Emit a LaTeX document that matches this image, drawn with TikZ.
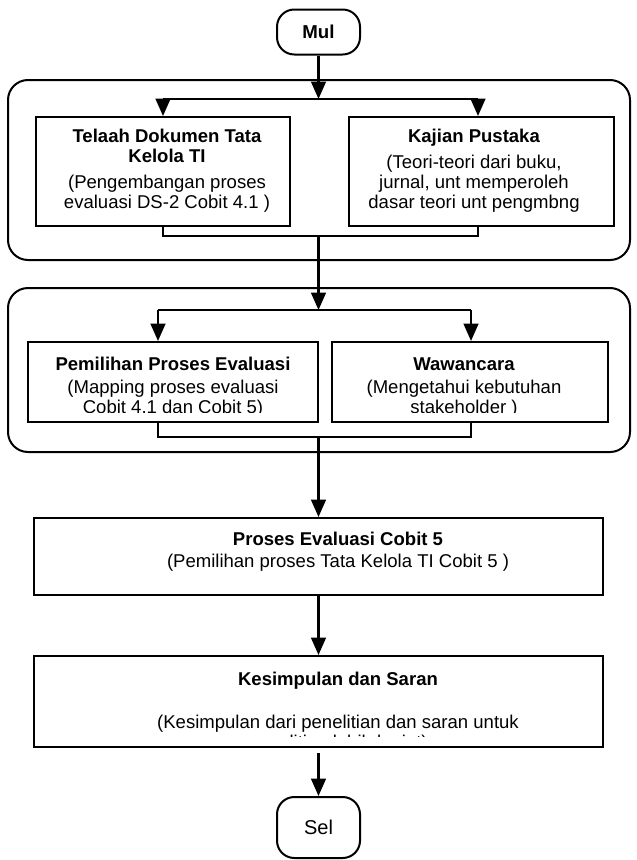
\documentclass[tikz,border=0pt]{standalone}
\usepackage{fontspec}
\setmainfont{Liberation Sans}
\usetikzlibrary{arrows.meta}

\begin{document}
\begin{tikzpicture}[
    x=0.75pt, y=-0.75pt,
    kotak/.style={draw, line width=1.5pt, inner sep=0pt},
    ujung/.style={draw, line width=1.5pt, rounded corners=13pt, minimum width=62.25pt, inner sep=0pt},
    fase/.style={draw, line width=1.5pt, rounded corners=15pt, minimum width=466.5pt, inner sep=0pt},
    teks/.style={align=center, inner sep=0pt, font=\fontsize{13.9}{15}\selectfont},
    panah/.style={line width=1.7pt, -{Triangle[length=13pt,width=11pt]}},
    garis/.style={line width=1.5pt}
    ]
	\useasboundingbox (0,0) rectangle (636,860);
	% kelompok tahap
	\node [fase, minimum height=135pt] (fase1) at (319,170) {};
	\node [fase, minimum height=123pt] (fase2) at (319,370) {};
	% mulai dan selesai
	\node [ujung, minimum height=33.75pt, font=\fontsize{14}{16}\selectfont\bfseries] (mulai) at (318.5,32) {Mul};
	\node [ujung, minimum height=45.75pt, font=\fontsize{15}{17}\selectfont] (selesai) at (318.5,827.5) {Sel};
	% kotak proses
	\node [kotak, minimum width=190.5pt, minimum height=81.75pt] (telaah) at (163,171.5) {};
	\node [kotak, minimum width=198.75pt, minimum height=81.75pt] (kajian) at (481.5,171.5) {};
	\node [kotak, minimum width=217.5pt, minimum height=60pt] (pemilihan) at (173,382) {};
	\node [kotak, minimum width=207pt, minimum height=60pt] (wawancara) at (470,382) {};
	\node [kotak, minimum width=426.75pt, minimum height=57.75pt] (proses) at (318.5,556.5) {};
	\node [kotak, minimum width=426.75pt, minimum height=68.25pt] (kesimpulan) at (318.5,701.5) {};
	% isi kotak
	\node [teks] (telaahtxt) at (167,171) {\textbf{Telaah Dokumen Tata}\\ \textbf{Kelola TI}\\[4.5pt] (Pengembangan proses\\ evaluasi DS-2 Cobit 4.1 )};
	\node [teks] (kajiantxt) at (474,171) {\textbf{Kajian Pustaka}\\[4.5pt] (Teori-teori dari buku,\\ jurnal, unt memperoleh\\ dasar teori unt pengmbng};
	\begin{scope}
		\clip (28,342) rectangle (318,412);
		\node [teks] (pemilihantxt) at (173,387.5) {\textbf{Pemilihan Proses Evaluasi}\\[2.25pt] (Mapping proses evaluasi\\ Cobit 4.1 dan Cobit 5)};
	\end{scope}
	\begin{scope}
		\clip (332,342) rectangle (608,412);
		\node [teks] (wawancaratxt) at (464,387.5) {\textbf{Wawancara}\\[2.25pt] (Mengetahui kebutuhan\\ stakeholder )};
	\end{scope}
	\node [teks] (prosestxt) at (338,552) {\textbf{Proses Evaluasi Cobit 5}\\[1.5pt] (Pemilihan proses Tata Kelola TI Cobit 5 )};
	\begin{scope}
		\clip (34,656) rectangle (603,736);
		\node [teks] (kesimpulantxt) at (338,712) {\textbf{Kesimpulan dan Saran}\\[17pt] (Kesimpulan dari penelitian dan saran untuk\\ penelitian lebih lanjut)};
	\end{scope}
	% titik cabang dan gabung
	\coordinate (cabang1) at (318.5,99);
	\coordinate (gabung1) at (318.5,236);
	\coordinate (cabang2) at (318.5,310);
	\coordinate (gabung2) at (318.5,437);
	\coordinate (c1l) at (163,99);
	\coordinate (c1r) at (478,99);
	\coordinate (c2l) at (158,310);
	\coordinate (c2r) at (471,310);
	\coordinate (akhir) at (318.5,753);
	% tahap 1
	\draw [panah] (mulai) -- (cabang1);
	\draw [garis] (c1l) -- (c1r);
	\draw [panah] (c1l) -- (c1l |- telaah.north);
	\draw [panah] (c1r) -- (c1r |- kajian.north);
	\draw [garis] (c1l |- telaah.south) -- (c1l |- gabung1) -- (c1r |- gabung1) -- (c1r |- kajian.south);
	\draw [panah] (gabung1) -- (cabang2);
	% tahap 2
	\draw [garis] (c2l) -- (c2r);
	\draw [panah] (c2l) -- (c2l |- pemilihan.north);
	\draw [panah] (c2r) -- (c2r |- wawancara.north);
	\draw [garis] (c2l |- pemilihan.south) -- (c2l |- gabung2) -- (c2r |- gabung2) -- (c2r |- wawancara.south);
	\draw [panah] (gabung2) -- (proses);
	% akhir
	\draw [panah] (proses) -- (kesimpulan);
	\draw [panah] (akhir) -- (selesai);
\end{tikzpicture}
\end{document}
